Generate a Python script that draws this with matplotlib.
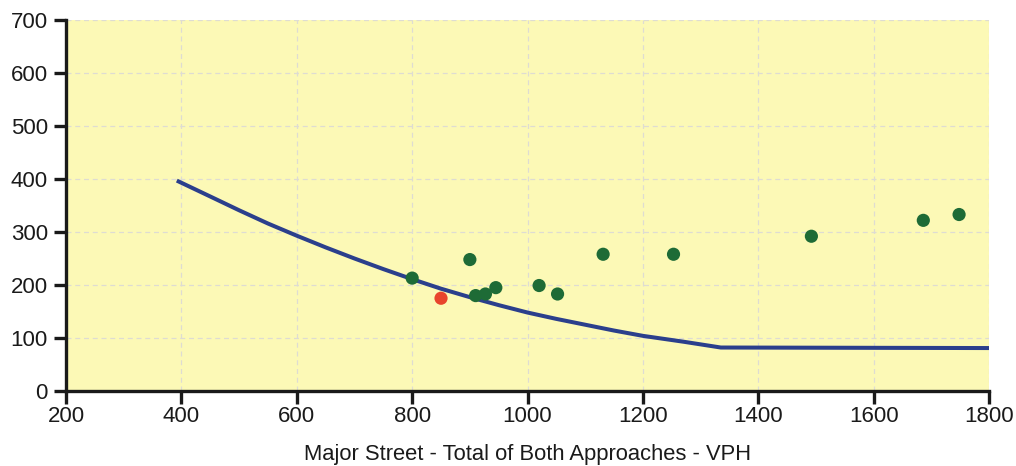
import matplotlib
matplotlib.use("Agg")
import matplotlib.pyplot as plt

plt.rcParams['font.family'] = ['Liberation Sans', 'DejaVu Sans']

# Warrant curve
curve_x = [392, 450, 500, 550, 600, 650, 700, 750, 800, 850, 900, 950, 1000,
           1050, 1100, 1150, 1200, 1270, 1335, 1800]
curve_y = [397, 367, 341, 316, 293, 271, 250, 230, 211, 193, 177, 162, 148,
           136, 125, 114, 104, 93, 82, 81]

# Observed data points
green_x = [800, 900, 910, 927, 945, 1020, 1052, 1131, 1253, 1492, 1686, 1748]
green_y = [213, 248, 180, 183, 195, 199, 183, 258, 258, 292, 322, 333]
red_x = [850]
red_y = [175]

xticks = [200, 400, 600, 800, 1000, 1200, 1400, 1600, 1800]
yticks = [0, 100, 200, 300, 400, 500, 600, 700]
xlabel = "Major Street - Total of Both Approaches - VPH"

fig = plt.figure(figsize=(10.16, 4.66), dpi=100)
ax = fig.add_axes([0.065, 0.161, 0.9085, 0.796])
ax.set_facecolor('#fcf9b6')

ax.set_xlim(200, 1800)
ax.set_ylim(0, 700)
ax.set_xticks(xticks)
ax.set_yticks(yticks)
ax.grid(True, color='#dedcd2', linestyle=(0, (4, 3)), linewidth=0.9)
ax.set_axisbelow(True)

ax.plot(curve_x, curve_y, color='#2b3f8c', linewidth=2.9, zorder=3,
        solid_capstyle='butt')
ax.scatter(green_x, green_y, s=90, color='#1e6b36', zorder=4, edgecolors='none')
ax.scatter(red_x, red_y, s=90, color='#e8452c', zorder=4, edgecolors='none')

for s in ['top', 'right']:
    ax.spines[s].set_visible(False)
for s in ['left', 'bottom']:
    ax.spines[s].set_linewidth(2.4)
    ax.spines[s].set_color('#1a1a1a')

ax.tick_params(axis='both', direction='out', length=9, width=2.4, color='#1a1a1a',
               labelsize=16, labelcolor='#1a1a1a')
ax.tick_params(axis='y', pad=4)
ax.tick_params(axis='x', pad=2)
ax.set_xlabel(xlabel, fontsize=15.8, color='#1a1a1a', labelpad=12)

fig.savefig('out.png', dpi=100, facecolor='white')
